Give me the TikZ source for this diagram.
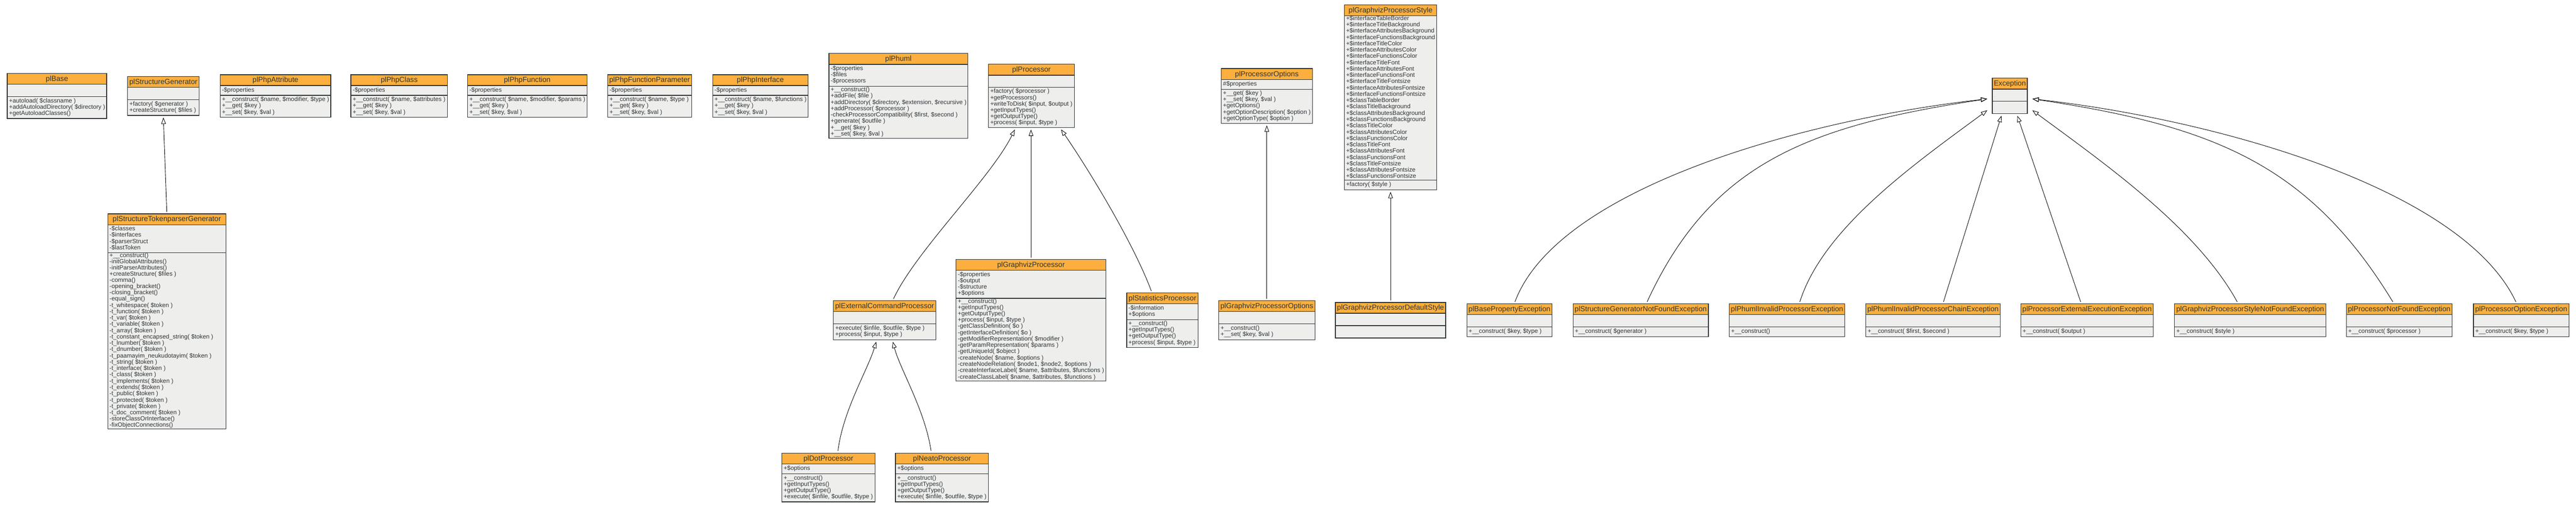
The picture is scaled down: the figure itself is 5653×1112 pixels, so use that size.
\documentclass[tikz,border=0pt]{standalone}
\usepackage{fontspec}
\setmainfont{Liberation Sans}
\usetikzlibrary{arrows.meta,calc}
\definecolor{titlefill}{HTML}{FCAF3E}
\definecolor{bodyfill}{HTML}{EEEEEC}
\definecolor{umlline}{HTML}{2E3436}
\newcommand{\umlbodyfont}{\fontsize{13.33pt}{13.33pt}\selectfont}
\newcommand{\umltitlefont}{\fontsize{16pt}{18pt}\selectfont}
\newcommand{\umlrows}[1]{\begin{tabular}{@{}l@{}}#1\end{tabular}}
% #1 name, #2 x left, #3 width, #4 y centre, #5 attr lines, #6 method lines, #7 title, #8 attrs, #9 methods
\newcommand{\umlbox}[9]{%
  \ifnum#5=0 \def\umlHA{27}\else\pgfmathsetmacro{\umlHA}{8+13.33*#5}\fi
  \ifnum#6=0 \def\umlHM{27}\else\pgfmathsetmacro{\umlHM}{8+13.33*#6}\fi
  \pgfmathsetmacro{\umlTop}{#4-(24+\umlHA+\umlHM)/2}%
  \pgfmathsetmacro{\umlTW}{#3-8}%
  \node[umltitle, minimum width=#3pt, anchor=north west] (#1-t) at (#2,\umlTop)
    {\makebox[\umlTW pt][c]{\rule[-2.5pt]{0pt}{15.5pt}#7}};
  \node[umlpart, minimum width=#3pt, minimum height=\umlHA pt, anchor=north west] (#1-a) at (#1-t.south west)
    {\makebox[\umlTW pt][l]{\ifnum#5=0 \else\umlrows{#8}\fi}};
  \node[umlpart, minimum width=#3pt, minimum height=\umlHM pt, anchor=north west] (#1-m) at (#1-a.south west)
    {\makebox[\umlTW pt][l]{\ifnum#6=0 \else\umlrows{#9}\fi}};
}
\begin{document}
\begin{tikzpicture}[x=1pt, y=-1pt,
  umltitle/.style={draw=umlline, line width=1.5pt, fill=titlefill, inner xsep=4pt, inner ysep=0pt,
    outer sep=0pt, minimum height=24pt, font=\umltitlefont, text=umlline},
  umlpart/.style={draw=umlline, line width=1.5pt, fill=bodyfill, inner xsep=4pt, inner ysep=0pt,
    outer sep=0pt, font=\umlbodyfont, text=umlline},
  gen/.style={draw=black, line width=1pt, -{Triangle[open, length=14pt, width=10pt]}}]
\fill[white] (0,0) rectangle (5653,1112);
\useasboundingbox (0,0) rectangle (5653,1112);

% ---------- rank 0 ----------
\umlbox{base}{16}{218}{210.5}{0}{3}{plBase}{}
  {+autoload( \$classname )\\+addAutoloadDirectory( \$directory )\\+getAutoloadClasses()}
\umlbox{structgen}{280}{157}{210.5}{0}{2}{plStructureGenerator}{}
  {+factory( \$generator )\\+createStructure( \$files )}
\umlbox{phpattr}{483}{243}{210.5}{1}{3}{plPhpAttribute}{-\$properties}
  {+\_\_construct( \$name, \$modifier, \$type )\\+\_\_get( \$key )\\+\_\_set( \$key, \$val )}
\umlbox{phpclass}{770}{212}{210.5}{1}{3}{plPhpClass}{-\$properties}
  {+\_\_construct( \$name, \$attributes )\\+\_\_get( \$key )\\+\_\_set( \$key, \$val )}
\umlbox{phpfunc}{1026}{262}{210.5}{1}{3}{plPhpFunction}{-\$properties}
  {+\_\_construct( \$name, \$modifier, \$params )\\+\_\_get( \$key )\\+\_\_set( \$key, \$val )}
\umlbox{phpparam}{1333.5}{184}{210.5}{1}{3}{plPhpFunctionParameter}{-\$properties}
  {+\_\_construct( \$name, \$type )\\+\_\_get( \$key )\\+\_\_set( \$key, \$val )}
\umlbox{phpiface}{1564}{209}{210.5}{1}{3}{plPhpInterface}{-\$properties}
  {+\_\_construct( \$name, \$functions )\\+\_\_get( \$key )\\+\_\_set( \$key, \$val )}
\umlbox{phuml}{1819}{305}{210.5}{3}{8}{plPhuml}{-\$properties\\-\$files\\-\$processors}
  {+\_\_construct()\\+addFile( \$file )\\+addDirectory( \$directory, \$extension, \$recursive )\\+addProcessor( \$processor )\\-checkProcessorCompatibility( \$first, \$second )\\+generate( \$outfile )\\+\_\_get( \$key )\\+\_\_set( \$key, \$val )}
\umlbox{proc}{2169}{189}{210.5}{0}{6}{plProcessor}{}
  {+factory( \$processor )\\+getProcessors()\\+writeToDisk( \$input, \$output )\\+getInputTypes()\\+getOutputType()\\+process( \$input, \$type )}
\umlbox{procopt}{2680}{200}{210.5}{1}{5}{plProcessorOptions}{\#\$properties}
  {+\_\_get( \$key )\\+\_\_set( \$key, \$val )\\+getOptions()\\+getOptionDescription( \$option )\\+getOptionType( \$option )}
\umlbox{gvstyle}{2950}{203}{210.5}{26}{1}{plGraphvizProcessorStyle}
  {+\$interfaceTableBorder\\+\$interfaceTitleBackground\\+\$interfaceAttributesBackground\\+\$interfaceFunctionsBackground\\+\$interfaceTitleColor\\+\$interfaceAttributesColor\\+\$interfaceFunctionsColor\\+\$interfaceTitleFont\\+\$interfaceAttributesFont\\+\$interfaceFunctionsFont\\+\$interfaceTitleFontsize\\+\$interfaceAttributesFontsize\\+\$interfaceFunctionsFontsize\\+\$classTableBorder\\+\$classTitleBackground\\+\$classAttributesBackground\\+\$classFunctionsBackground\\+\$classTitleColor\\+\$classAttributesColor\\+\$classFunctionsColor\\+\$classTitleFont\\+\$classAttributesFont\\+\$classFunctionsFont\\+\$classTitleFontsize\\+\$classAttributesFontsize\\+\$classFunctionsFontsize}
  {+factory( \$style )}
\umlbox{exception}{4372}{77}{210.5}{0}{0}{Exception}{}{}

% ---------- rank 1 ----------
\umlbox{tokgen}{236.5}{259}{702.5}{4}{28}{plStructureTokenparserGenerator}
  {-\$classes\\-\$interfaces\\-\$parserStruct\\-\$lastToken}
  {+\_\_construct()\\-initGlobalAttributes()\\-initParserAttributes()\\+createStructure( \$files )\\-comma()\\-opening\_bracket()\\-closing\_bracket()\\-equal\_sign()\\-t\_whitespace( \$token )\\-t\_function( \$token )\\-t\_var( \$token )\\-t\_variable( \$token )\\-t\_array( \$token )\\-t\_constant\_encapsed\_string( \$token )\\-t\_lnumber( \$token )\\-t\_dnumber( \$token )\\-t\_paamayim\_neukudotayim( \$token )\\-t\_string( \$token )\\-t\_interface( \$token )\\-t\_class( \$token )\\-t\_implements( \$token )\\-t\_extends( \$token )\\-t\_public( \$token )\\-t\_protected( \$token )\\-t\_private( \$token )\\-t\_doc\_comment( \$token )\\-storeClassOrInterface()\\-fixObjectConnections()}
\umlbox{extcmd}{1829}{224.5}{702.5}{0}{2}{plExternalCommandProcessor}{}
  {+execute( \$infile, \$outfile, \$type )\\+process( \$input, \$type )}
\umlbox{gvproc}{2098}{329}{702.5}{4}{13}{plGraphvizProcessor}
  {-\$properties\\-\$output\\-\$structure\\+\$options}
  {+\_\_construct()\\+getInputTypes()\\+getOutputType()\\+process( \$input, \$type )\\-getClassDefinition( \$o )\\-getInterfaceDefinition( \$o )\\-getModifierRepresentation( \$modifier )\\-getParamRepresentation( \$params )\\-getUniqueId( \$object )\\-createNode( \$name, \$options )\\-createNodeRelation( \$node1, \$node2, \$options )\\-createInterfaceLabel( \$name, \$attributes, \$functions )\\-createClassLabel( \$name, \$attributes, \$functions )}
\umlbox{stats}{2472.5}{157}{702.5}{2}{4}{plStatisticsProcessor}{-\$information\\+\$options}
  {+\_\_construct()\\+getInputTypes()\\+getOutputType()\\+process( \$input, \$type )}
\umlbox{gvopts}{2674.5}{211}{702.5}{0}{2}{plGraphvizProcessorOptions}{}
  {+\_\_construct()\\+\_\_set( \$key, \$val )}
\umlbox{gvdefstyle}{2930.5}{242}{702.5}{0}{0}{plGraphvizProcessorDefaultStyle}{}{}
\umlbox{exBase}{3219}{187}{702.5}{0}{1}{plBasePropertyException}{}{+\_\_construct( \$key, \$type )}
\umlbox{exStructGen}{3452}{297}{702.5}{0}{1}{plStructureGeneratorNotFoundException}{}{+\_\_construct( \$generator )}
\umlbox{exInvProc}{3795}{253.3}{702.5}{0}{1}{plPhumlInvalidProcessorException}{}{+\_\_construct()}
\umlbox{exChain}{4094.4}{295}{702.5}{0}{1}{plPhumlInvalidProcessorChainException}{}{+\_\_construct( \$first, \$second )}
\umlbox{exExtExec}{4434.6}{290.7}{702.5}{0}{1}{plProcessorExternalExecutionException}{}{+\_\_construct( \$output )}
\umlbox{exStyleNF}{4772}{331.8}{702.5}{0}{1}{plGraphvizProcessorStyleNotFoundException}{}{+\_\_construct( \$style )}
\umlbox{exProcNF}{5149}{232}{702.5}{0}{1}{plProcessorNotFoundException}{}{+\_\_construct( \$processor )}
\umlbox{exOption}{5428}{209.3}{702.5}{0}{1}{plProcessorOptionException}{}{+\_\_construct( \$key, \$type )}

% ---------- rank 2 ----------
\umlbox{dot}{1715.7}{204.3}{1047.7}{1}{4}{plDotProcessor}{+\$options}
  {+\_\_construct()\\+getInputTypes()\\+getOutputType()\\+execute( \$infile, \$outfile, \$type )}
\umlbox{neato}{1965}{204.3}{1047.7}{1}{4}{plNeatoProcessor}{+\$options}
  {+\_\_construct()\\+getInputTypes()\\+getOutputType()\\+execute( \$infile, \$outfile, \$type )}

% ---------- generalisations ----------
\draw[gen] ($(tokgen-t.north)+(0,-4)$) -- ($(structgen-m.south)+(0,4.5)$);
\draw[gen] ($(extcmd-t.north)+(19.5,-4)$) .. controls (2010,550) and (2175,390) .. ($(proc-m.south)+(-36.5,4.3)$);
\draw[gen] ($(gvproc-t.north)+(0,-4)$) -- ($(proc-m.south)+(-1,4.3)$);
\draw[gen] ($(stats-t.north)+(-24.5,-4)$) .. controls (2490,540) and (2397,384) .. ($(proc-m.south)+(65,4)$);
\draw[gen] ($(dot-t.north)+(21,-5)$) .. controls (1850,900) and (1905,810) .. ($(extcmd-m.south)+(-18.5,4.5)$);
\draw[gen] ($(neato-t.north)+(-24,-5)$) .. controls (2030,900) and (1975,810) .. ($(extcmd-m.south)+(18,4.5)$);
\draw[gen] ($(gvopts-t.north)+(0,-4)$) -- ($(procopt-m.south)+(0,4.5)$);
\draw[gen] ($(gvdefstyle-t.north)+(0,-4)$) -- ($(gvstyle-m.south)+(0,4.5)$);

\draw[gen] ($(exChain-t.north)+(23,-4)$) -- ($(exception-m.south)+(-18.5,4.5)$);
\draw[gen] ($(exExtExec-t.north)+(-14,-4)$) -- ($(exception-m.south)+(16.5,4.5)$);
\draw[gen] ($(exInvProc-t.north)+(28,-4)$) .. controls (4001,500) and (4201,360) .. ($(exception-m.west)+(-11,6)$);
\draw[gen] ($(exStyleNF-t.north)+(-28.4,-4)$) .. controls (4820,500) and (4620,360) .. ($(exception-m.east)+(11,6)$);
\draw[gen] ($(exStructGen-t.north)+(14,-4)$) .. controls (3753,362) and (3961,277) .. ($(exception-a.west)+(-11,8)$);
\draw[gen] ($(exProcNF-t.north)+(-14,-4)$) .. controls (5068,362) and (4860,277) .. ($(exception-a.east)+(11,8)$);
\draw[gen] ($(exBase-t.north)+(12,-4)$) .. controls (3418,412) and (3961,262) .. ($(exception-a.west)+(-11,8)$);
\draw[gen] ($(exOption-t.north)+(-11.6,-4)$) .. controls (5403,412) and (4860,262) .. ($(exception-a.east)+(11,8)$);
\end{tikzpicture}
\end{document}
